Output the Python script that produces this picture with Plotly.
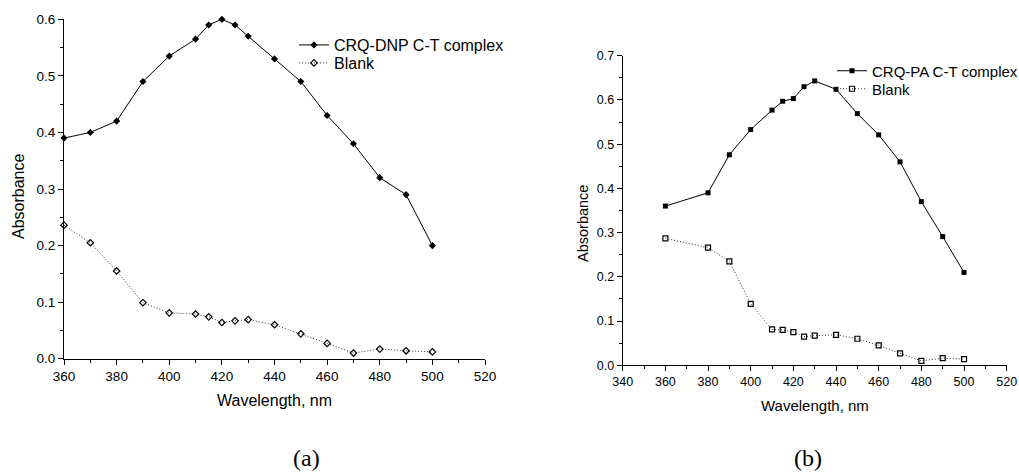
import plotly.graph_objects as go

# Panel (a): CRQ-DNP
wl_a = [360, 370, 380, 390, 400, 410, 415, 420, 425, 430, 440, 450, 460, 470, 480, 490, 500]
dnp_complex = [0.39, 0.40, 0.42, 0.49, 0.535, 0.565, 0.59, 0.60, 0.59, 0.57, 0.53, 0.49, 0.43, 0.38, 0.32, 0.29, 0.20]
dnp_blank = [0.236, 0.205, 0.155, 0.099, 0.081, 0.079, 0.074, 0.064, 0.067, 0.069, 0.060, 0.044, 0.027, 0.010, 0.017, 0.014, 0.012]

# Panel (b): CRQ-PA
wl_b = [360, 380, 390, 400, 410, 415, 420, 425, 430, 440, 450, 460, 470, 480, 490, 500]
pa_complex = [0.360, 0.390, 0.476, 0.533, 0.577, 0.597, 0.603, 0.630, 0.643, 0.624, 0.569, 0.521, 0.460, 0.370, 0.291, 0.210]
pa_blank = [0.287, 0.266, 0.235, 0.139, 0.081, 0.080, 0.075, 0.065, 0.067, 0.069, 0.060, 0.045, 0.027, 0.010, 0.016, 0.014]

FONT = "Arial, Liberation Sans, sans-serif"
W, H = 1019, 472
DOT = "1px,2px"

fig = go.Figure()
fig.add_trace(go.Scatter(x=wl_a, y=dnp_complex, mode="lines+markers", name="CRQ-DNP C-T complex",
                         line=dict(color="black", width=1),
                         marker=dict(symbol="diamond", size=5.5, color="black"),
                         xaxis="x", yaxis="y", legend="legend", cliponaxis=False))
fig.add_trace(go.Scatter(x=wl_a, y=dnp_blank, mode="lines+markers", name="Blank",
                         line=dict(color="#333333", width=1, dash=DOT),
                         marker=dict(symbol="diamond-open", size=5, color="black", line=dict(width=1.2)),
                         xaxis="x", yaxis="y", legend="legend2", cliponaxis=False))
fig.add_trace(go.Scatter(x=wl_b, y=pa_complex, mode="lines+markers", name="CRQ-PA C-T complex",
                         line=dict(color="black", width=1),
                         marker=dict(symbol="square", size=5, color="black"),
                         xaxis="x2", yaxis="y2", legend="legend3", cliponaxis=False))
fig.add_trace(go.Scatter(x=wl_b, y=pa_blank, mode="lines+markers", name="Blank",
                         line=dict(color="#333333", width=1, dash=DOT),
                         marker=dict(symbol="square-open", size=5, color="black", line=dict(width=1.2)),
                         xaxis="x2", yaxis="y2", legend="legend4", cliponaxis=False))

def px_x(p):
    return p / W

def px_y(p):
    return 1 - p / H

axis_common = dict(showline=True, linecolor="black", linewidth=1, showgrid=False, zeroline=False,
                   ticks="outside", ticklen=5, tickwidth=1, tickcolor="black", automargin=False)
minor_common = dict(ticks="outside", ticklen=3, tickwidth=1, tickcolor="black", showgrid=False)

def leg(x, y, size):
    return dict(x=px_x(x), y=px_y(y), xanchor="left", yanchor="middle", bgcolor="rgba(0,0,0,0)",
                font=dict(size=size), itemwidth=30)

fig.update_layout(
    width=W, height=H, margin=dict(l=0, r=0, t=0, b=0, autoexpand=False),
    paper_bgcolor="white", plot_bgcolor="white",
    font=dict(family=FONT, color="black"),
    xaxis=dict(domain=[px_x(64), px_x(485)], range=[360, 520], dtick=20, anchor="y",
               tickfont=dict(size=13.5), minor=dict(dtick=10, **minor_common), **axis_common),
    yaxis=dict(domain=[px_y(358.7), px_y(19.3)], range=[0, 0.6], dtick=0.1, tickformat=".1f", anchor="x",
               tickfont=dict(size=13.5), minor=dict(dtick=0.05, **minor_common), **axis_common),
    xaxis2=dict(domain=[px_x(622.7), px_x(1006.7)], range=[340, 520], dtick=20, anchor="y2",
                tickfont=dict(size=12.5), minor=dict(dtick=10, **minor_common), **axis_common),
    yaxis2=dict(domain=[px_y(365.3), px_y(55.7)], range=[0, 0.7], dtick=0.1, tickformat=".1f", anchor="x2",
                tickfont=dict(size=12.5), minor=dict(dtick=0.05, **minor_common), **axis_common),
    legend=leg(294, 45, 16),
    legend2=leg(294, 63, 16),
    legend3=leg(832, 71, 15),
    legend4=leg(832, 89, 15),
    showlegend=True,
)

annotations = [
    dict(text="Absorbance", x=px_x(18), y=px_y(197), textangle=-90, font=dict(size=16)),
    dict(text="Wavelength, nm", x=px_x(274.5), y=px_y(400), font=dict(size=16)),
    dict(text="Absorbance", x=px_x(583), y=px_y(224), textangle=-90, font=dict(size=14.5)),
    dict(text="Wavelength, nm", x=px_x(814.5), y=px_y(405), font=dict(size=15)),
    dict(text="(a)", x=px_x(306), y=px_y(458), font=dict(size=24, family="Times New Roman, Liberation Serif, serif")),
    dict(text="(b)", x=px_x(808), y=px_y(458), font=dict(size=24, family="Times New Roman, Liberation Serif, serif")),
]
for a in annotations:
    a.update(xref="paper", yref="paper", showarrow=False, xanchor="center", yanchor="middle")
fig.update_layout(annotations=annotations)

fig.write_html("out.html", config={"displayModeBar": False},
               post_script="document.body.style.margin='0';document.body.style.overflow='hidden';")
